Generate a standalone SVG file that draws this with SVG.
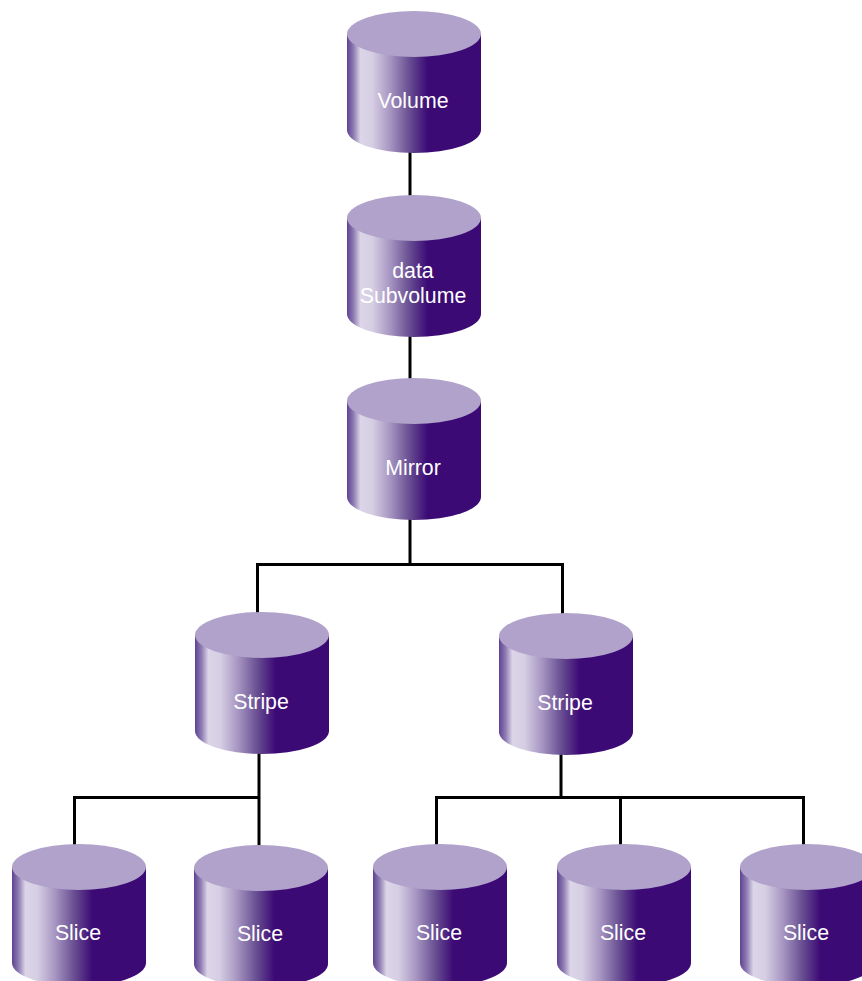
<svg xmlns="http://www.w3.org/2000/svg" width="862" height="981" viewBox="0 0 862 981">
<style>
.lbl{font-family:"Liberation Sans",Arial,sans-serif;font-size:21.3px;fill:#fff;text-anchor:middle}
.c{fill:none;stroke:#000;stroke-width:3}
.top{fill:#b1a2cb}
.side{fill:url(#g)}
</style>
<defs>
<linearGradient id="g" x1="0" x2="1" y1="0" y2="0">
<stop offset="0" stop-color="#5f4292"/>
<stop offset="0.05" stop-color="#8f7db3"/>
<stop offset="0.1" stop-color="#dcd5e8"/>
<stop offset="0.19" stop-color="#d6cee3"/>
<stop offset="0.32" stop-color="#a796c2"/>
<stop offset="0.46" stop-color="#6a5193"/>
<stop offset="0.6" stop-color="#3c0a75"/>
<stop offset="1" stop-color="#3c0a75"/>
</linearGradient>
<g id="cyl">
<path class="side" d="M0 23V119A67 23 0 0 0 134 119V23Z"/>
<ellipse class="top" cx="67" cy="23" rx="67" ry="23"/>
</g>
</defs>
<g id="connectors">
<path class="c" d="M410 150V198"/>
<path class="c" d="M410 334V381"/>
<path class="c" d="M410 517V564"/>
<path class="c" d="M257.500 615V564.500H562.500V616"/>
<path class="c" d="M259 750V847"/>
<path class="c" d="M259 797.500H74.500V847"/>
<path class="c" d="M561 751V797.500"/>
<path class="c" d="M436.500 847V797.500H803.500V847"/>
<path class="c" d="M620.500 797.500V847"/>
</g>
<g id="volume"><use href="#cyl" x="347" y="11"/><text class="lbl" x="413" y="108">Volume</text></g>
<g id="subvolume"><use href="#cyl" x="347" y="195"/><text class="lbl" x="413" y="278">data</text><text class="lbl" x="413" y="303">Subvolume</text></g>
<g id="mirror"><use href="#cyl" x="347" y="378"/><text class="lbl" x="413" y="475">Mirror</text></g>
<g id="stripe1"><use href="#cyl" x="195" y="612"/><text class="lbl" x="261" y="709">Stripe</text></g>
<g id="stripe2"><use href="#cyl" x="499" y="613"/><text class="lbl" x="565" y="710">Stripe</text></g>
<g id="slice1"><use href="#cyl" x="12" y="844"/><text class="lbl" x="78" y="940">Slice</text></g>
<g id="slice2"><use href="#cyl" x="194" y="845"/><text class="lbl" x="260" y="941">Slice</text></g>
<g id="slice3"><use href="#cyl" x="373" y="844"/><text class="lbl" x="439" y="940">Slice</text></g>
<g id="slice4"><use href="#cyl" x="557" y="844"/><text class="lbl" x="623" y="940">Slice</text></g>
<g id="slice5"><use href="#cyl" x="740" y="844"/><text class="lbl" x="806" y="940">Slice</text></g>
</svg>
